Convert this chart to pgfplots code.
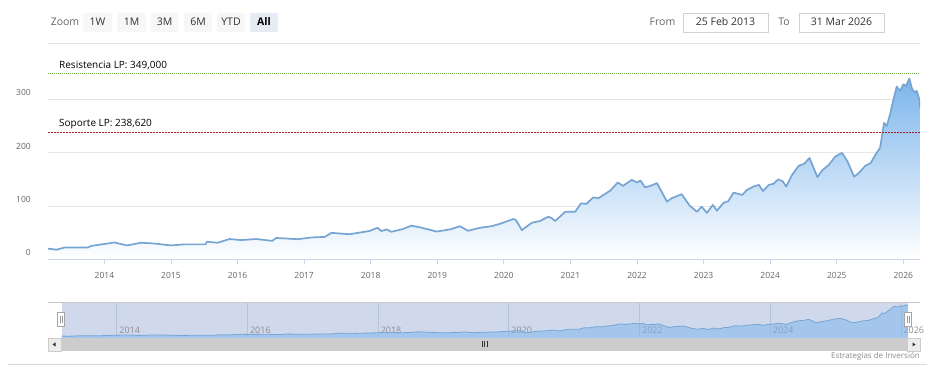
\documentclass[border=0pt]{standalone}
\usepackage{fontspec}
\setmainfont{Open Sans}
\usepackage{pgfplots}
\pgfplotsset{compat=1.18}
\usepackage{pgfplotstable}

\definecolor{gridc}{HTML}{E6E6E6}
\definecolor{axisc}{HTML}{CCD6EB}
\definecolor{labelc}{HTML}{666666}
\definecolor{linec}{RGB}{118,165,212}
\definecolor{areatop}{RGB}{124,181,236}
\definecolor{navmask}{RGB}{208,217,236}
\definecolor{navgrid}{RGB}{185,195,216}
\definecolor{navlabel}{HTML}{8C8C8C}
\definecolor{resc}{RGB}{110,170,70}
\definecolor{supc}{RGB}{165,30,40}
\definecolor{btn}{HTML}{F7F7F7}
\definecolor{btnsel}{HTML}{E6EBF5}
\definecolor{txt}{HTML}{333333}

\pgfplotstableread{
x y
2013.153 20
2013.28 18
2013.40 22
2013.75 22
2013.80 25
2014.15 31.5
2014.34 26
2014.55 31
2014.75 29.6
2015.00 26
2015.20 28
2015.52 28
2015.54 33
2015.70 31
2015.88 38
2016.05 36
2016.28 38
2016.52 34.5
2016.58 40
2016.90 37.7
2017.12 41
2017.31 42
2017.41 49.6
2017.68 47
2017.98 53
2018.10 59
2018.16 53
2018.24 56
2018.31 51.6
2018.48 56.6
2018.61 63
2018.74 60
2018.99 52
2019.19 56
2019.34 62
2019.46 53.5
2019.64 59
2019.81 62
2019.93 66
2020.14 75.5
2020.18 73.6
2020.27 54.7
2020.42 68.5
2020.54 71.7
2020.67 80
2020.72 76.8
2020.77 71.7
2020.92 89
2021.07 89
2021.16 105
2021.24 103.8
2021.34 116
2021.42 114.5
2021.60 129
2021.71 144
2021.79 137.7
2021.92 149
2022.00 144
2022.05 147.8
2022.12 135
2022.20 137.7
2022.30 142.8
2022.45 108
2022.52 114.5
2022.67 122
2022.79 100.6
2022.90 89
2022.97 98.7
2023.05 87
2023.14 102
2023.20 91
2023.30 106
2023.37 109
2023.45 125
2023.58 120.8
2023.65 130
2023.75 136.5
2023.83 139.6
2023.89 128
2023.98 139.6
2024.05 141.5
2024.12 150
2024.19 146
2024.24 136.5
2024.33 158.5
2024.43 175.5
2024.51 179
2024.59 190
2024.71 154
2024.78 166.6
2024.88 177
2024.98 193
2025.08 199.4
2025.16 183.6
2025.26 155
2025.33 161.7
2025.43 175.5
2025.51 180.5
2025.58 196
2025.65 209
2025.69 240
2025.71 256
2025.75 249.6
2025.80 271.7
2025.84 293.8
2025.90 324
2025.95 315.7
2026.00 328
2026.04 325
2026.09 339
2026.13 320
2026.17 312.6
2026.20 315.7
2026.24 300
2026.25 284
}\data

\begin{document}
\begin{tikzpicture}[x=1pt,y=1pt]
\useasboundingbox (0,0) rectangle (940,382);
\fill[white] (0,0) rectangle (940,382);

% ---- range selector ----
\node[text=labelc, font=\fontsize{10.5}{12}\selectfont] at (65,360) {Zoom};
\foreach \a/\b/\t in {83/112/1W, 117/146/1M, 151/178/3M, 184/212/6M, 217/245/YTD}{
  \fill[btn, rounded corners=1.5pt] (\a,350) rectangle (\b,369);
  \node[text=txt, font=\fontsize{10.5}{12}\selectfont] at ({(\a+\b)/2},360) {\t};
}
\fill[btnsel, rounded corners=1.5pt] (250,350) rectangle (278,369);
\node[text=black, font=\fontsize{10.5}{12}\selectfont\bfseries] at (264,360) {All};
\node[text=labelc, font=\fontsize{10.5}{12}\selectfont] at (662.5,360) {From};
\draw[draw=gridc!80!gray, fill=white] (683,350) rectangle (768,369);
\node[text=txt, font=\fontsize{10.5}{12}\selectfont] at (725.5,360) {25 Feb 2013};
\node[text=labelc, font=\fontsize{10.5}{12}\selectfont] at (784,360) {To};
\draw[draw=gridc!80!gray, fill=white] (799,350) rectangle (884,369);
\node[text=txt, font=\fontsize{10.5}{12}\selectfont] at (841.5,360) {31 Mar 2026};

% ---- main chart ----
\begin{axis}[
  at={(48pt,122.7pt)}, anchor=south west, scale only axis,
  width=872pt, height=216pt,
  xmin=2013.153, xmax=2026.25, ymin=0, ymax=405,
  axis line style={draw=none},
  xtick={2014,2015,...,2026},
  xticklabels={2014,2015,2016,2017,2018,2019,2020,2021,2022,2023,2024,2025,2026},
  xtick pos=bottom, tick align=outside, major tick length=5pt,
  xtick style={draw=axisc, line width=0.8pt},
  xticklabel style={font=\fontsize{8.5}{10}\selectfont, text=labelc, yshift=-4.5pt},
  ytick={0,100,200,300}, yticklabels={0,100,200,300},
  ytick style={draw=none},
  yticklabel style={font=\fontsize{8.5}{10}\selectfont, text=labelc, anchor=east, inner sep=0pt, xshift=-12pt, yshift=6.5pt},
  ymajorgrids, grid style={draw=gridc, line width=0.8pt},
]
\addplot[draw=none, top color=areatop, bottom color=white] table[x=x,y=y]{\data} \closedcycle;
\addplot[linec, line width=1.7pt, line join=round] table[x=x,y=y]{\data};
\draw[gridc, line width=0.8pt] (rel axis cs:0,1) -- (rel axis cs:1,1);
\draw[axisc, line width=0.8pt] (rel axis cs:0,0) -- (rel axis cs:1,0);
\draw[resc, line width=0.9pt, dash pattern=on 1pt off 1pt] (axis cs:2013.153,349) -- (axis cs:2026.25,349);
\draw[supc, line width=0.8pt, dash pattern=on 2pt off 1pt] (axis cs:2013.153,238.62) -- (axis cs:2026.25,238.62);
\node[anchor=west, inner sep=0pt, text=black, font=\fontsize{10}{12}\selectfont, xshift=11pt, yshift=7.5pt] at (axis cs:2013.153,349) {Resistencia LP: 349,000};
\node[anchor=west, inner sep=0pt, text=black, font=\fontsize{10}{12}\selectfont, xshift=11pt, yshift=7.5pt] at (axis cs:2013.153,238.62) {Soporte LP: 238,620};
\end{axis}

% ---- navigator ----
\draw[gridc!70!gray, line width=0.6pt] (48,79.3) -- (920,79.3);
\fill[navmask] (61.7,44) rectangle (908,79.3);
\begin{axis}[
  at={(61.7pt,44pt)}, anchor=south west, scale only axis,
  width=846.3pt, height=35.3pt,
  xmin=2013.158, xmax=2026.11, ymin=0, ymax=360,
  axis line style={draw=none},
  xtick={2014,2016,...,2026},
  xticklabels={2014,2016,2018,2020,2022,2024,2026},
  xtick pos=bottom, major tick length=0pt, xtick style={draw=none},
  xmajorgrids, grid style={draw=navgrid, line width=0.6pt},
  ytick=\empty,
  xticklabel style={anchor=west, inner sep=0pt, xshift=2.5pt, yshift=7.3pt, font=\fontsize{9}{10}\selectfont, text=navlabel},
]
\addplot[draw=none, fill=areatop, fill opacity=0.5] table[x=x,y=y]{\data} \closedcycle;
\addplot[linec, line width=0.8pt] table[x=x,y=y]{\data};
\end{axis}
% handles
\foreach \c in {61,908}{
  \draw[draw=gray!70, fill=white, line width=0.6pt] (\c-3.3,55.3) rectangle (\c+3.3,69.3);
  \draw[gray!80, line width=0.5pt] (\c-1,58.5) -- (\c-1,66) (\c+1,58.5) -- (\c+1,66);
}
% scrollbar
\fill[gray!25] (48,31) rectangle (920,44);
\fill[gray!40] (61,31) rectangle (907,44);
\draw[gray!40, fill=gray!15] (48,31) rectangle (61,44);
\draw[gray!40, fill=gray!15] (907,31) rectangle (920,44);
\fill[txt] (52.5,37.5) -- (55.5,39.5) -- (55.5,35.5) -- cycle;
\fill[txt] (915.5,37.5) -- (912.5,39.5) -- (912.5,35.5) -- cycle;
\draw[txt, line width=0.6pt] (482,34.5) -- (482,40.5) (484.5,34.5) -- (484.5,40.5) (487,34.5) -- (487,40.5);
% bottom line + credit
\draw[gray!30, line width=0.8pt] (8,18) -- (927,18);
\node[anchor=east, inner sep=0pt, text=navlabel, font=\fontsize{8}{9}\selectfont] at (920,26) {Estrategias de Inversión};
\end{tikzpicture}
\end{document}
